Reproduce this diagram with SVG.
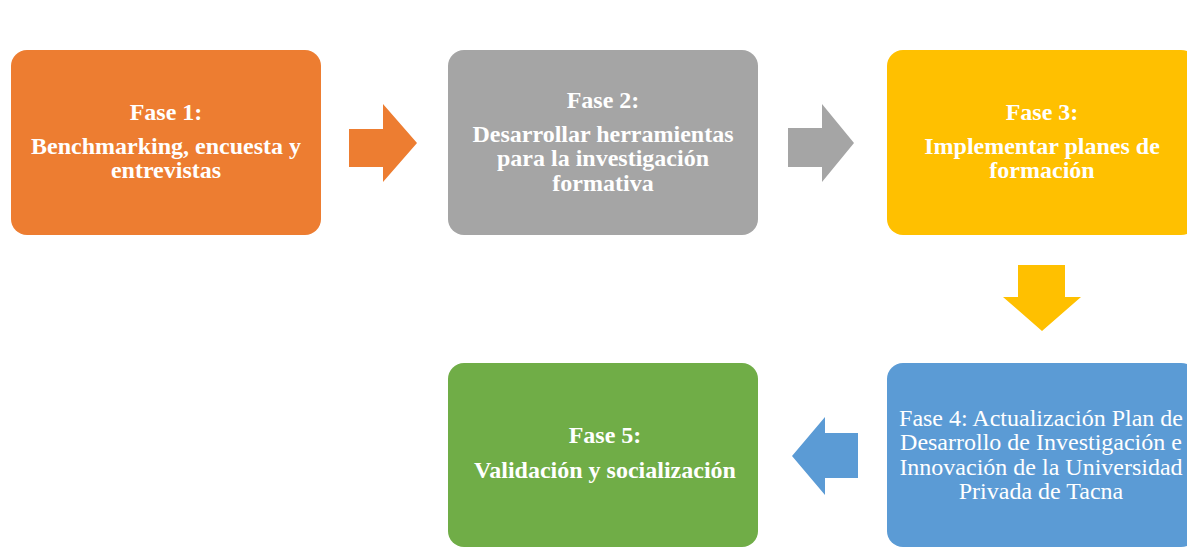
<svg xmlns="http://www.w3.org/2000/svg" width="1187" height="548" viewBox="0 0 1187 548">
<style>
.b{font-family:"Liberation Serif","Times New Roman",serif;font-size:24px;font-weight:bold;fill:#fff;text-anchor:middle}
.r{font-family:"Liberation Serif","Times New Roman",serif;font-size:24px;fill:#fff;text-anchor:middle}
</style>
<rect width="1187" height="548" fill="#fff"/>
<g id="fase1">
<rect x="11" y="50" width="310" height="185" rx="16" fill="#ED7D31"/>
<text class="b" x="166" y="120">Fase 1:</text>
<text class="b" x="166" y="154">Benchmarking, encuesta y</text>
<text class="b" x="166" y="178">entrevistas</text>
</g>
<g id="fase2">
<rect x="448" y="50" width="310" height="185" rx="16" fill="#A5A5A5"/>
<text class="b" x="603" y="108">Fase 2:</text>
<text class="b" x="603" y="142">Desarrollar herramientas</text>
<text class="b" x="603" y="166">para la investigación</text>
<text class="b" x="603" y="191">formativa</text>
</g>
<g id="fase3">
<rect x="887" y="50" width="310" height="185" rx="16" fill="#FFC000"/>
<text class="b" x="1042" y="120">Fase 3:</text>
<text class="b" x="1042" y="154">Implementar planes de</text>
<text class="b" x="1042" y="178">formación</text>
</g>
<g id="fase4">
<rect x="887" y="363" width="310" height="184" rx="16" fill="#5B9BD5"/>
<text class="r" x="1041" y="426">Fase 4: Actualización Plan de</text>
<text class="r" x="1041" y="450">Desarrollo de Investigación e</text>
<text class="r" x="1041" y="475">Innovación de la Universidad</text>
<text class="r" x="1041" y="499">Privada de Tacna</text>
</g>
<g id="fase5">
<rect x="448" y="363" width="310" height="184" rx="16" fill="#70AD47"/>
<text class="b" x="605" y="443">Fase 5:</text>
<text class="b" x="605" y="478">Validación y socialización</text>
</g>
<g id="connectors">
<polygon points="349,129 383,129 383,104 417,143 383,182 383,167 349,167" fill="#ED7D31"/>
<polygon points="788,128 822,128 822,104 854,143 822,182 822,167 788,167" fill="#A5A5A5"/>
<polygon points="1018,265 1065,265 1065,297 1081,297 1042,331 1003,297 1018,297" fill="#FFC000"/>
<polygon points="858,433 825,433 825,417 792,456 825,495 825,478 858,478" fill="#5B9BD5"/>
</g>
</svg>
